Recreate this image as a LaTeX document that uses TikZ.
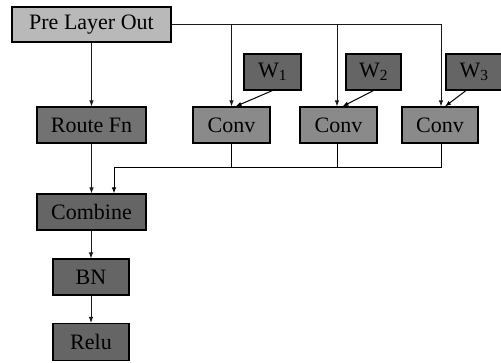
\documentclass[tikz,border=0pt]{standalone}
\usepackage{fontspec}
\newfontfamily\boxfont{Liberation Serif}
\usetikzlibrary{arrows.meta}
\definecolor{boxlight}{HTML}{B9B9B9}
\definecolor{boxmid}{HTML}{8A8A8A}
\definecolor{boxdark}{HTML}{727272}
\definecolor{boxdeep}{HTML}{656565}

\begin{document}
\begin{tikzpicture}[
    x=1pt,y=-1pt,
    block/.style={draw=black,line width=1.1pt,rectangle,inner sep=0pt,minimum height=36pt,
      font=\boxfont\fontsize{22}{26}\selectfont,text=black},
    flow/.style={-{Latex[length=6pt,width=4.5pt]},line width=0.9pt,black!90},
    wire/.style={line width=1pt,black},
    feed/.style={-{Latex[length=6pt,width=4.5pt]},line width=1pt,black}
]
\useasboundingbox (0,0) rectangle (501,363);

\node[block,fill=boxlight,minimum width=159pt,minimum height=35pt] (pre) at (91.5,24.5) {Pre Layer Out};
\node[block,fill=boxdark,minimum width=109pt] (route) at (91.5,125) {Route Fn};
\node[block,fill=boxmid,minimum width=77pt] (conv1) at (231.5,125) {Conv};
\node[block,fill=boxmid,minimum width=77pt] (conv2) at (338.5,125) {Conv};
\node[block,fill=boxmid,minimum width=76pt] (conv3) at (440,125) {Conv};
\node[block,fill=boxdeep,minimum width=57pt] (w1) at (272.5,72) {W\textsubscript{1}};
\node[block,fill=boxdeep,minimum width=55pt] (w2) at (373.5,72) {W\textsubscript{2}};
\node[block,fill=boxdeep,minimum width=56pt] (w3) at (474,72) {W\textsubscript{3}};
\node[block,fill=boxdeep,minimum width=109pt] (comb) at (91.5,212) {Combine};
\node[block,fill=boxdeep,minimum width=76pt] (bn) at (91,277) {BN};
\node[block,fill=boxdeep,minimum width=76pt,minimum height=37pt] (relu) at (91,342) {Relu};

\coordinate (bus) at (114,168);
\coordinate (merge) at ([xshift=22.5pt]comb.north);

% input fan-out
\draw[flow] (pre) -- (route);
\draw[flow] (pre.east) -| ([xshift=1pt]conv3.north);
\draw[flow] (pre.east -| conv1.north) -- (conv1.north);
\draw[flow] ([xshift=-1.5pt]pre.east -| conv2.north) -- ([xshift=-1.5pt]conv2.north);

% weights
\draw[feed] (w1.south) -- ([xshift=4pt]conv1.north);
\draw[feed] (w2.south) -- ([xshift=4pt]conv2.north);
\draw[feed] ([xshift=-8pt]w3.south) -- ([xshift=5pt]conv3.north);

% outputs gathered
\draw[wire] (conv1.south) -- (conv1.south |- bus);
\draw[wire] ([xshift=-1.5pt]conv2.south) -- ([xshift=-1.5pt]conv2.south |- bus);
\draw[feed] ([xshift=1pt]conv3.south) |- (bus) -- (merge);

\draw[flow] (route) -- (comb);
\draw[flow] (comb.south -| bn.north) -- (bn);
\draw[flow] (bn) -- (relu);
\end{tikzpicture}
\end{document}
